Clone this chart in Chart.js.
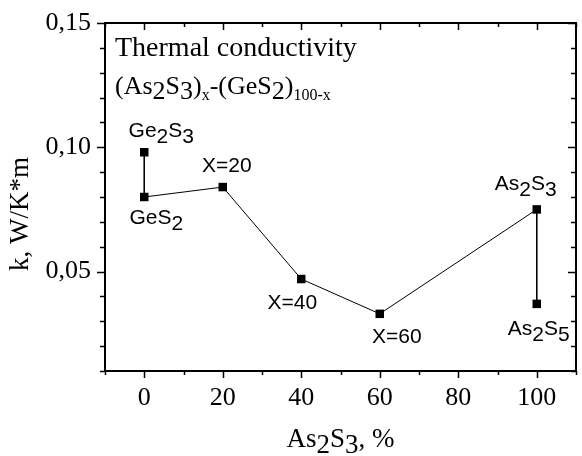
<!DOCTYPE html>
<html>
<head>
<meta charset="utf-8">
<script src="https://cdn.jsdelivr.net/npm/chart.js@4.4.0/dist/chart.umd.min.js"></script>
<style>
    html, body { margin: 0; padding: 0; background: #fff; }
    canvas { display: block; }
</style>
</head>
<body>
<canvas id="graph" width="582" height="456"></canvas>
<script>
// data
const composition = [0, 0, 20, 40, 60, 100, 100];
const conductivity = [0.098, 0.080, 0.084, 0.047, 0.033, 0.075, 0.037];
const pointNames = ["Ge_2S_3", "GeS_2", "X=20", "X=40", "X=60", "As_2S_3", "As_2S_5"];
const xTicks = [0, 20, 40, 60, 80, 100];
const yTicks = [0.05, 0.10, 0.15];
const yTickLabels = ["0,05", "0,10", "0,15"];

// label placement relative to its point (dx, baseline dy)
const nameOffsets = [[17, -15], [12, 27], [4, -15], [-9, 30], [17, 29], [-11, -19], [2, 31]];

const serif = "'Liberation Serif', 'Times New Roman', serif";
const sans = "'Liberation Sans', Arial, sans-serif";

// "_2" means the next character is lowered (same size)
function parseName(text, font, drop) {
    const parts = [];
    for (let i = 0; i < text.length; i++) {
        if (text[i] === "_") {
            parts.push({ t: text[i + 1], font: font, dy: drop });
            i++;
        } else {
            const last = parts[parts.length - 1];
            if (last && last.dy === 0) last.t += text[i];
            else parts.push({ t: text[i], font: font, dy: 0 });
        }
    }
    return parts;
}

function drawParts(ctx, parts, x, y, align) {
    let width = 0;
    parts.forEach(p => { ctx.font = p.font; width += ctx.measureText(p.t).width; });
    let cx = align === "center" ? x - width / 2 : x;
    ctx.textAlign = "left";
    ctx.textBaseline = "alphabetic";
    parts.forEach(p => {
        ctx.font = p.font;
        ctx.fillText(p.t, cx, y + p.dy);
        cx += ctx.measureText(p.t).width;
    });
}

const decorPlugin = {
    id: "decor",
    afterDraw(chart) {
        const ctx = chart.ctx;
        const area = chart.chartArea;
        const xs = chart.scales.x;
        const ys = chart.scales.y;
        ctx.save();
        ctx.fillStyle = "#000";
        ctx.strokeStyle = "#000";

        // frame
        ctx.lineWidth = 2;
        ctx.strokeRect(area.left, area.top, area.right - area.left, area.bottom - area.top);

        // ticks
        ctx.lineWidth = 1.5;
        ctx.beginPath();
        for (let i = -1; i <= 11; i++) {
            const px = Math.round(xs.getPixelForValue(i * 10)) + 0.5;
            const len = (i % 2 === 0 && i >= 0 && i <= 10) ? 7 : 4;
            ctx.moveTo(px, area.bottom);
            ctx.lineTo(px, area.bottom + len);
            ctx.moveTo(px, area.top);
            ctx.lineTo(px, area.top + len);
        }
        for (let i = 1; i <= 15; i++) {
            const py = Math.round(ys.getPixelForValue(i / 100)) + 0.5;
            const len = i % 5 === 0 ? 8 : 5;
            ctx.moveTo(area.left, py);
            ctx.lineTo(area.left - len, py);
            ctx.moveTo(area.right, py);
            ctx.lineTo(area.right - len, py);
        }
        ctx.stroke();

        // point names
        const meta = chart.getDatasetMeta(0);
        meta.data.forEach((pt, i) => {
            const parts = parseName(pointNames[i], "21px " + sans, 6);
            drawParts(ctx, parts, pt.x + nameOffsets[i][0], pt.y + nameOffsets[i][1], "center");
        });

        // inner title
        ctx.font = "28px " + serif;
        ctx.textAlign = "left";
        ctx.fillText("Thermal conductivity", area.left + 10, area.top + 33);
        const big = "26px " + serif;
        const small = "16px " + serif;
        drawParts(ctx, [
            { t: "(As", font: big, dy: 0 },
            { t: "2", font: big, dy: 5 },
            { t: "S", font: big, dy: 0 },
            { t: "3", font: big, dy: 5 },
            { t: ")", font: big, dy: 0 },
            { t: "x", font: small, dy: 6 },
            { t: "-(GeS", font: big, dy: 0 },
            { t: "2", font: big, dy: 5 },
            { t: ")", font: big, dy: 0 },
            { t: "100-x", font: small, dy: 6 }
        ], area.left + 10, area.top + 71, "left");

        // axis titles
        const axisFont = "27px " + serif;
        drawParts(ctx, parseName("As_2S_3, %", axisFont, 6), (area.left + area.right) / 2, 447, "center");
        ctx.translate(28, 214);
        ctx.rotate(-Math.PI / 2);
        ctx.font = axisFont;
        ctx.textAlign = "center";
        ctx.fillText("k, W/K*m", 0, 0);
        ctx.restore();
    }
};

new Chart(document.getElementById("graph"), {
    type: "scatter",
    data: {
        datasets: [{
            data: composition.map((x, i) => ({ x: x, y: conductivity[i] })),
            showLine: true,
            borderColor: "#000",
            borderWidth: 1,
            backgroundColor: "#000",
            pointStyle: "rect",
            pointRadius: 6,
            pointHoverRadius: 6,
            pointBorderWidth: 0,
            clip: false
        }]
    },
    options: {
        responsive: false,
        animation: false,
        events: [],
        layout: { padding: { top: 23, right: 2, left: 0, bottom: 0 } },
        plugins: { legend: { display: false }, tooltip: { enabled: false } },
        scales: {
            x: {
                type: "linear",
                min: -10,
                max: 110,
                afterFit: s => { s.height = 85; },
                border: { display: false },
                grid: { drawOnChartArea: false, color: "rgba(0,0,0,0)", tickLength: 8 },
                ticks: {
                    stepSize: 10,
                    autoSkip: false,
                    maxRotation: 0,
                    padding: 4,
                    color: "#000",
                    font: { family: serif, size: 26 },
                    callback: v => xTicks.includes(v) ? String(v) : ""
                }
            },
            y: {
                min: 0.01,
                max: 0.15,
                afterFit: s => { s.width = 105; },
                border: { display: false },
                grid: { drawOnChartArea: false, color: "rgba(0,0,0,0)", tickLength: 8 },
                ticks: {
                    stepSize: 0.01,
                    autoSkip: false,
                    padding: 6,
                    color: "#000",
                    font: { family: serif, size: 26 },
                    callback: v => {
                        const k = yTicks.findIndex(t => Math.abs(t - v) < 1e-6);
                        return k >= 0 ? yTickLabels[k] : "";
                    }
                }
            }
        }
    },
    plugins: [decorPlugin]
});
</script>
</body>
</html>
